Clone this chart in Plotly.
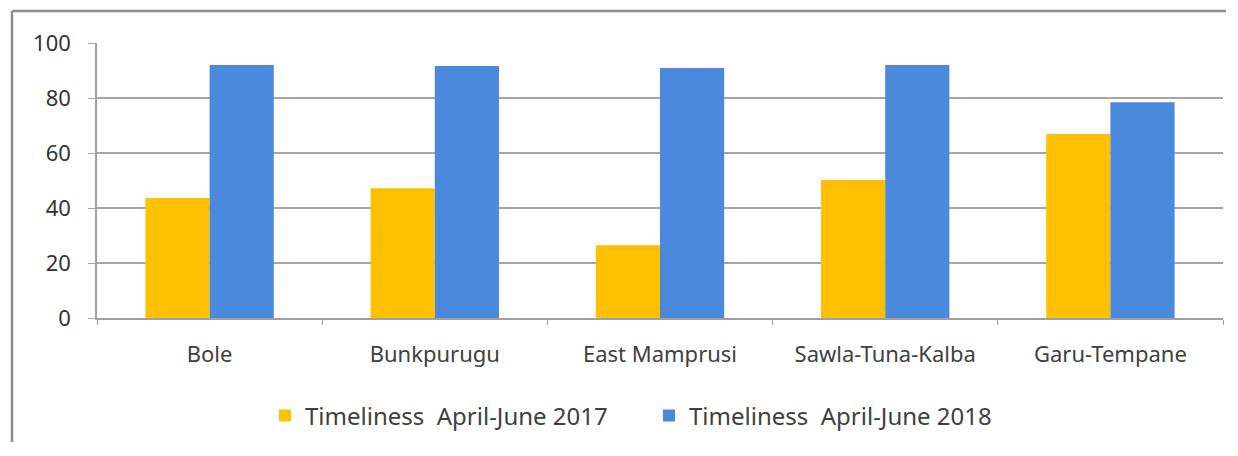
import plotly.graph_objects as go

categories = ["Bole", "Bunkpurugu", "East Mamprusi", "Sawla-Tuna-Kalba", "Garu-Tempane"]
timeliness_2017 = [43.6, 47.2, 26.5, 50.2, 66.9]
timeliness_2018 = [92.0, 91.6, 90.9, 92.0, 78.5]
series_names = ["Timeliness  April-June 2017", "Timeliness  April-June 2018"]
y_ticks = [0, 20, 40, 60, 80, 100]

FONT = "Noto Sans"
TXT = "#404040"
FS = 22

fig = go.Figure()
fig.add_trace(go.Bar(x=categories, y=timeliness_2017, name=series_names[0],
                     marker=dict(color="#FFC000", line=dict(width=0))))
fig.add_trace(go.Bar(x=categories, y=timeliness_2018, name=series_names[1],
                     marker=dict(color="#4A89DC", line=dict(width=0))))

# page body has an 8px margin; figure sized so the page does not scroll
W, H = 1218, 434
L, R, T, B = 89, 3, 35, 124
pw, ph = W - L - R, H - T - B
plot_bottom = H - B  # figure px

fig.update_layout(
    width=W, height=H,
    margin=dict(l=L, r=R, t=T, b=B),
    paper_bgcolor="white", plot_bgcolor="white",
    barmode="group", bargap=0.43, bargroupgap=0.0,
    font=dict(family=FONT, size=FS, color=TXT),
    showlegend=True,
    legend=dict(orientation="h", x=(257 - L) / pw, xanchor="left",
                y=(plot_bottom - 408) / ph, yanchor="middle",
                font=dict(family=FONT, size=24, color=TXT),
                traceorder="normal", itemwidth=30, entrywidth=339,
                bgcolor="rgba(0,0,0,0)"),
    xaxis=dict(showgrid=False, showline=True, linecolor="#A0A0A0", linewidth=1.5,
               ticks="outside", tickson="boundaries", ticklen=5, tickcolor="#A0A0A0",
               tickfont=dict(family=FONT, size=FS, color=TXT),
               ticklabelstandoff=16, automargin=False),
    yaxis=dict(range=[0, 100], tickvals=y_ticks, showgrid=True, gridcolor="#A6A6A6",
               gridwidth=1.5, showline=True, linecolor="#A0A0A0", linewidth=1.5,
               ticks="outside", ticklen=7, tickcolor="#A6A6A6",
               tickfont=dict(family=FONT, size=FS, color="#333333"),
               ticklabelstandoff=13, zeroline=False, automargin=False),
    shapes=[
        dict(type="line", xref="paper", yref="paper",
             x0=(4 - L) / pw, x1=(W - L) / pw,
             y0=(plot_bottom - 3) / ph, y1=(plot_bottom - 3) / ph,
             line=dict(color="#8C8C8C", width=2.5)),
        dict(type="line", xref="paper", yref="paper",
             x0=(4 - L) / pw, x1=(4 - L) / pw,
             y0=(plot_bottom - 3) / ph, y1=(plot_bottom - H) / ph,
             line=dict(color="#8C8C8C", width=2.5)),
    ],
)

fig.write_html("out.html")
